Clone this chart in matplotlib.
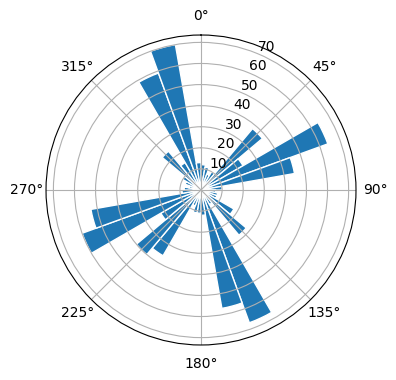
import numpy as np
import matplotlib
matplotlib.use("Agg")
import matplotlib.pyplot as plt

# 36 direction bins, 10 degrees each, clockwise from north
bin_start_deg = np.arange(0, 360, 10)
counts = [12, 11, 8, 10, 38, 23, 64, 45, 10, 7,
          8, 8, 18, 28, 8, 67, 57, 12, 11, 11,
          8, 36, 40, 22, 60, 53, 9, 8, 6, 8,
          10, 24, 15, 59, 70, 13]

theta = np.deg2rad(bin_start_deg + 5)
width = np.deg2rad(10)

fig = plt.figure(figsize=(3.96, 3.80), dpi=100)
ax = fig.add_axes([0.1162, 0.0921, 0.7828, 0.8158], projection="polar")
ax.set_theta_zero_location("N")
ax.set_theta_direction(-1)
ax.bar(theta, counts, width=width, bottom=0.0, color="C0", edgecolor="white", linewidth=1)

fig.savefig("out.png", dpi=100)
